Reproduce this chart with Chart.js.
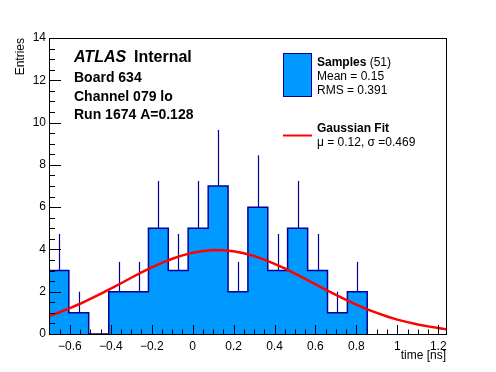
<!DOCTYPE html>
<html lang="en">
<head>
  <meta charset="UTF-8" />
  <title>Board 634 timing</title>
  <script src="https://cdn.jsdelivr.net/npm/chart.js"></script>
  <style>
    body {
      margin: 0;
      background: #fff;
    }
    #wrap {
      width: 496px;
      height: 372px;
      position: relative;
    }
  </style>
</head>
<body>
  <div id="wrap"><canvas id="timeChart"></canvas></div>

  <script>
    // histogram bins (time in ns) and entries
    const binEdges = [-0.702, -0.605, -0.508, -0.410, -0.313, -0.216, -0.119, -0.022,
      0.076, 0.173, 0.270, 0.367, 0.464, 0.562, 0.659, 0.756, 0.853];
    const counts = [3, 1, 0, 2, 2, 5, 3, 5, 7, 2, 6, 3, 5, 3, 1, 2];
    const errTop = [4.73, 2.0, 0, 3.41, 3.41, 7.24, 4.73, 7.24, 9.65, 3.41, 8.45, 4.73, 7.24, 4.73, 2.0, 3.41];

    // gaussian fit curve
    const fitX = [-0.702, -0.65, -0.6, -0.55, -0.5, -0.45, -0.4, -0.35, -0.3, -0.25, -0.2, -0.15,
      -0.1, -0.05, 0, 0.05, 0.1, 0.15, 0.2, 0.25, 0.3, 0.35, 0.4, 0.45, 0.5, 0.55, 0.6,
      0.65, 0.7, 0.75, 0.8, 0.85, 0.9, 0.95, 1.0, 1.05, 1.1, 1.15, 1.2, 1.238];
    const fitY = [0.85, 1.03, 1.22, 1.43, 1.66, 1.90, 2.15, 2.40, 2.66, 2.91, 3.15, 3.36,
      3.56, 3.72, 3.84, 3.93, 3.97, 3.96, 3.91, 3.82, 3.69, 3.52, 3.32, 3.10, 2.86, 2.61, 2.35,
      2.10, 1.85, 1.61, 1.39, 1.18, 1.00, 0.83, 0.68, 0.56, 0.45, 0.36, 0.28, 0.23];

    const xMin = -0.702, xMax = 1.238;
    const yMin = 0, yMax = 14;
    const xMajor = 0.2, xMinor = 0.05;
    const yMajor = 2, yMinor = 0.5;

    const FONT = '"Liberation Sans", Arial, Helvetica, sans-serif';
    const fillBlue = '#0099ff';
    const lineBlue = '#000099';

    const histPoints = counts.map((c, i) => ({ x: binEdges[i], y: c }));
    histPoints.push({ x: binEdges[binEdges.length - 1], y: 0 });
    const fitPoints = fitX.map((x, i) => ({ x: x, y: fitY[i] }));

    function fmt(v) {
      const r = parseFloat(v.toFixed(2));
      return r < 0 ? '\u2212' + Math.abs(r) : String(r);
    }

    const rootStyle = {
      id: 'rootStyle',
      afterDatasetDraw(chart, args) {
        if (args.index !== 1) return;
        const ctx = chart.ctx;
        const xs = chart.scales.x, ys = chart.scales.y;
        ctx.save();
        ctx.strokeStyle = lineBlue;
        ctx.lineWidth = 1.2;
        counts.forEach((c, i) => {
          if (c <= 0) return;
          const xc = Math.round(xs.getPixelForValue((binEdges[i] + binEdges[i + 1]) / 2)) + 0.5;
          ctx.beginPath();
          ctx.moveTo(xc, ys.getPixelForValue(c));
          ctx.lineTo(xc, ys.getPixelForValue(errTop[i]));
          ctx.stroke();
        });
        ctx.restore();
      },
      afterDraw(chart) {
        const ctx = chart.ctx;
        const a = chart.chartArea;
        const xs = chart.scales.x, ys = chart.scales.y;
        ctx.save();
        ctx.strokeStyle = '#000';
        ctx.lineWidth = 1;
        ctx.strokeRect(a.left + 0.5, a.top + 0.5, a.right - a.left, a.bottom - a.top);

        // x ticks, inside
        ctx.beginPath();
        for (let v = Math.ceil(xMin / xMinor) * xMinor; v <= xMax + 1e-9; v += xMinor) {
          const px = Math.round(xs.getPixelForValue(v)) + 0.5;
          const major = Math.abs(v / xMajor - Math.round(v / xMajor)) < 1e-6;
          const len = major ? 9 : 4.5;
          ctx.moveTo(px, a.bottom);
          ctx.lineTo(px, a.bottom - len);
        }
        // y ticks, inside
        for (let v = yMin; v <= yMax + 1e-9; v += yMinor) {
          const py = Math.round(ys.getPixelForValue(v)) + 0.5;
          const major = Math.abs(v / yMajor - Math.round(v / yMajor)) < 1e-6;
          const len = major ? 12 : 6;
          ctx.moveTo(a.left, py);
          ctx.lineTo(a.left + len, py);
        }
        ctx.stroke();

        // axis titles
        ctx.fillStyle = '#000';
        ctx.font = '12px ' + FONT;
        ctx.textAlign = 'right';
        ctx.textBaseline = 'alphabetic';
        ctx.fillText('time [ns]', a.right, 359);
        ctx.save();
        ctx.translate(24, a.top);
        ctx.rotate(-Math.PI / 2);
        ctx.fillText('Entries', 0, 0);
        ctx.restore();

        // label block
        ctx.textAlign = 'left';
        ctx.font = 'italic bold 16px ' + FONT;
        ctx.fillText('ATLAS', 74, 62);
        ctx.font = 'bold 16px ' + FONT;
        ctx.fillText('Internal', 134, 62);
        ctx.font = 'bold 14px ' + FONT;
        ctx.fillText('Board 634', 74, 82);
        ctx.fillText('Channel 079 lo', 74, 100.5);
        ctx.fillText('Run 1674 A=0.128', 74, 119);

        // legend
        ctx.fillStyle = fillBlue;
        ctx.fillRect(283, 53, 29, 44);
        ctx.strokeStyle = lineBlue;
        ctx.strokeRect(283.5, 53.5, 28, 43);
        ctx.fillStyle = '#000';
        ctx.font = 'bold 12px ' + FONT;
        ctx.fillText('Samples', 317, 65.5);
        const w = ctx.measureText('Samples ').width;
        ctx.font = '12px ' + FONT;
        ctx.fillText('(51)', 317 + w, 65.5);
        ctx.fillText('Mean = 0.15', 317, 80);
        ctx.fillText('RMS = 0.391', 317, 94);
        ctx.font = 'bold 12px ' + FONT;
        ctx.fillText('Gaussian Fit', 317, 132);
        ctx.font = '12px ' + FONT;
        ctx.fillText('\u03bc = 0.12, \u03c3 =0.469', 317, 146);
        ctx.strokeStyle = '#ff0000';
        ctx.lineWidth = 2;
        ctx.beginPath();
        ctx.moveTo(283, 135.5);
        ctx.lineTo(312, 135.5);
        ctx.stroke();
        ctx.restore();
      }
    };

    const ctx = document.getElementById('timeChart').getContext('2d');
    new Chart(ctx, {
      type: 'line',
      data: {
        datasets: [
          {
            label: 'Gaussian Fit',
            data: fitPoints,
            borderColor: '#ff0000',
            borderWidth: 2.5,
            pointRadius: 0,
            tension: 0,
            fill: false
          },
          {
            label: 'Samples',
            data: histPoints,
            stepped: 'before',
            borderColor: lineBlue,
            borderWidth: 1.5,
            backgroundColor: fillBlue,
            fill: 'origin',
            pointRadius: 0
          }
        ]
      },
      options: {
        responsive: true,
        maintainAspectRatio: false,
        animation: false,
        events: [],
        layout: { padding: { top: 38, right: 50, left: 0, bottom: 0 } },
        plugins: {
          legend: { display: false },
          title: { display: false },
          tooltip: { enabled: false }
        },
        scales: {
          x: {
            type: 'linear',
            min: xMin,
            max: xMax,
            grid: { display: false, drawTicks: false },
            border: { display: false },
            ticks: {
              stepSize: xMajor,
              includeBounds: false,
              autoSkip: false,
              maxRotation: 0,
              padding: 5,
              color: '#000',
              font: { family: FONT, size: 12 },
              callback: v => fmt(v)
            },
            afterFit: s => { s.height = 38; }
          },
          y: {
            min: yMin,
            max: yMax,
            grid: { display: false, drawTicks: false },
            border: { display: false },
            ticks: {
              stepSize: yMajor,
              padding: 3,
              color: '#000',
              font: { family: FONT, size: 12 },
              callback: v => fmt(v)
            },
            afterFit: s => { s.width = 49; }
          }
        }
      },
      plugins: [rootStyle]
    });
  </script>
</body>
</html>
